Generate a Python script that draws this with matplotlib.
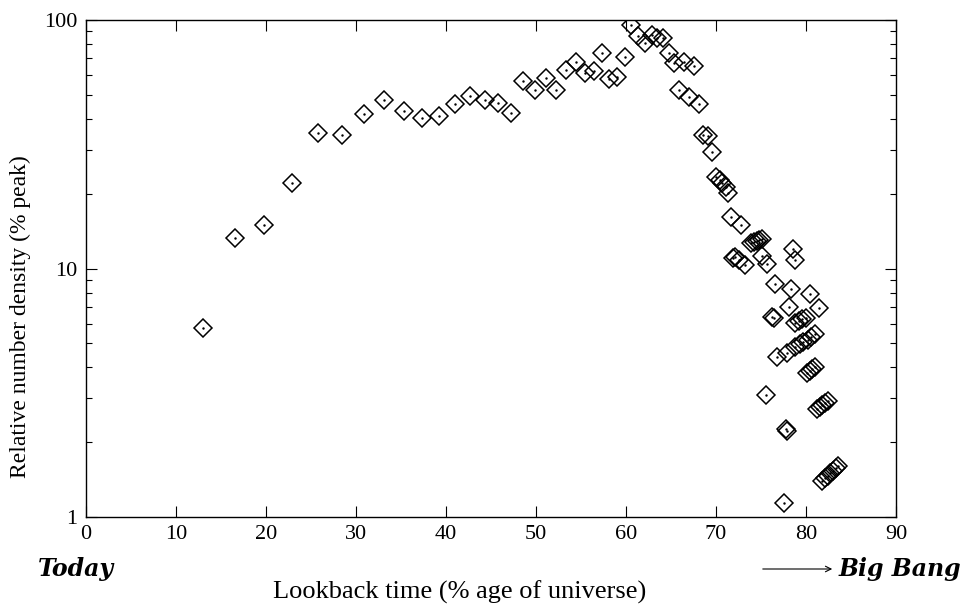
import matplotlib.pyplot as plt
from matplotlib.ticker import FixedLocator, NullFormatter

plt.rcParams['font.family'] = ['Liberation Serif', 'DejaVu Serif']

# lookback time (% age of universe) and relative number density (% peak)
lookback = [13.0, 16.6, 19.8, 22.9, 25.8, 28.4, 30.9, 33.1, 35.3, 37.3,
            39.2, 41.0, 42.7, 44.3, 45.8, 47.2, 48.6, 49.9, 51.1, 52.2,
            53.3, 54.4, 55.4, 56.4, 57.3, 58.1, 59.0, 59.9, 60.6, 61.3,
            62.1, 62.9, 63.4, 64.1, 64.8, 65.3, 66.4, 67.6, 65.9, 67.0,
            68.1, 68.6, 69.1, 69.6, 70.0, 70.4, 70.7, 71.1, 71.3, 71.7,
            72.8, 73.9, 74.2, 74.5, 74.8, 75.1, 71.9, 72.1, 72.5, 73.2,
            75.1, 75.7, 78.6, 78.8, 76.6, 78.3, 80.4, 78.1, 81.4, 76.2,
            76.4, 78.8, 79.2, 79.6, 80.0, 78.8, 79.3, 79.7, 80.2, 80.6,
            81.0, 76.8, 77.9, 80.1, 80.4, 80.7, 81.0, 75.5, 81.2, 81.5,
            81.8, 82.1, 82.4, 77.8, 77.9, 81.8, 82.1, 82.4, 82.7, 83.0,
            83.3, 83.6, 77.6]
density = [5.75, 13.3, 15.0, 22.0, 35.0, 34.5, 42.0, 47.5, 43.0, 40.3,
           41.0, 46.0, 49.5, 47.6, 46.4, 42.1, 57.0, 52.3, 58.3, 52.3,
           62.7, 67.5, 61.3, 62.5, 73.5, 58.1, 59.0, 70.8, 95.5, 86.0,
           80.7, 86.7, 85.0, 84.3, 73.5, 66.9, 67.5, 65.0, 52.3, 48.8,
           46.0, 34.4, 34.0, 29.3, 23.3, 22.8, 22.0, 21.2, 20.2, 16.1,
           14.9, 12.7, 12.8, 12.9, 13.0, 13.1, 11.0, 11.1, 10.8, 10.3,
           11.2, 10.4, 12.0, 10.8, 8.7, 8.3, 7.9, 7.0, 6.95, 6.4,
           6.3, 6.05, 6.15, 6.25, 6.35, 4.85, 4.95, 5.05, 5.15, 5.3,
           5.45, 4.39, 4.58, 3.8, 3.87, 3.95, 4.02, 3.10, 2.72, 2.77,
           2.82, 2.87, 2.93, 2.25, 2.22, 1.40, 1.43, 1.46, 1.50, 1.53,
           1.57, 1.60, 1.14]

xticks = [0, 10, 20, 30, 40, 50, 60, 70, 80, 90]
yticks = [1, 10, 100]

fig = plt.figure(figsize=(9.63, 6.06), dpi=100)
ax = fig.add_axes([86 / 963, 1 - 517 / 606, 810 / 963, 497 / 606])

ax.plot(lookback, density, linestyle='none', marker='D', markersize=9.5,
        markerfacecolor='none', markeredgecolor='black', markeredgewidth=1.1)
ax.plot(lookback, density, linestyle='none', marker='.', markersize=1.5,
        color='black')

ax.set_yscale('log')
ax.set_xlim(0, 90)
ax.set_ylim(1, 100)
ax.set_xticks(xticks)
ax.set_yticks(yticks)
ax.set_yticklabels([str(v) for v in yticks])
ax.yaxis.set_minor_locator(FixedLocator([m * d for d in (1, 10) for m in range(2, 10)]))
ax.yaxis.set_minor_formatter(NullFormatter())
ax.tick_params(which='both', direction='in', top=True, right=True, labelsize=16)
ax.tick_params(which='major', length=8, width=0.8, pad=6)
ax.tick_params(which='minor', length=4.5, width=0.8)
for s in ax.spines.values():
    s.set_linewidth(1.0)

fig.text(460 / 963, 1 - 592 / 606, 'Lookback time (% age of universe)',
         fontsize=19, ha='center', va='center')
fig.text(20 / 963, 1 - 317 / 606, 'Relative number density (% peak)',
         fontsize=17, ha='center', va='center', rotation=90)

fig.text(38 / 963, 1 - 569 / 606, 'Today', fontsize=17, fontweight='bold',
         fontstyle='italic', family='DejaVu Serif', va='center', ha='left')
fig.text(961 / 963, 1 - 569 / 606, 'Big Bang', fontsize=17, fontweight='bold',
         fontstyle='italic', family='DejaVu Serif', va='center', ha='right')
ax.annotate('', xy=(835 / 963, 1 - 569 / 606), xytext=(760 / 963, 1 - 569 / 606),
            xycoords='figure fraction', textcoords='figure fraction',
            arrowprops=dict(arrowstyle='->', lw=0.8, color='black'))

fig.savefig('out.png', dpi=100)
